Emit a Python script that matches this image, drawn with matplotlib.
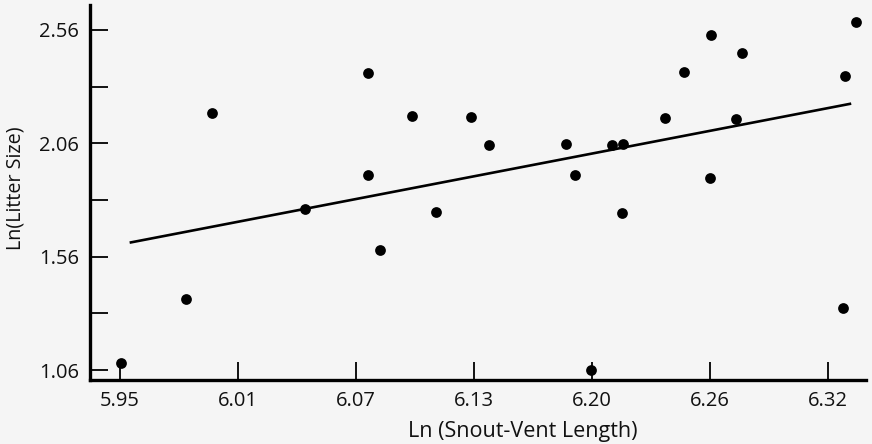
import numpy as np
import matplotlib.pyplot as plt

# ln snout-vent length vs ln litter size
svl = [5.9505, 5.9845, 5.998, 6.0467, 6.0798, 6.0798, 6.0859, 6.1028, 6.115,
       6.1334, 6.1428, 6.1829, 6.1876, 6.196, 6.2073, 6.2129, 6.2122, 6.2348,
       6.2449, 6.2587, 6.2583, 6.2749, 6.2717, 6.3287, 6.3345, 6.3278]
litter = [1.091, 1.373, 2.195, 1.772, 2.372, 1.922, 1.591, 2.179, 1.756,
          2.176, 2.053, 2.057, 1.922, 1.06, 2.053, 2.057, 1.754, 2.173,
          2.373, 2.537, 1.907, 2.457, 2.166, 2.357, 2.597, 1.332]

# regression line end points
fit_x = [5.9557, 6.3315]
fit_y = [1.623, 2.234]

x_labels = ["5.95", "6.01", "6.07", "6.13", "6.20", "6.26", "6.32"]
y_major = [1.06, 1.56, 2.06, 2.56]
y_minor = [1.31, 1.81, 2.31]

bg = "#f5f5f5"
plt.rcParams.update({
    "font.family": ["Open Sans", "DejaVu Sans"],
    "font.size": 14,
})

fig = plt.figure(figsize=(8.72, 4.44), dpi=100, facecolor=bg)
ax = fig.add_axes([0.1032, 0.1441, 0.8899, 0.8446], facecolor=bg)

ax.scatter(svl, litter, s=60, color="black", zorder=3, linewidths=0)
ax.plot(fit_x, fit_y, color="black", linewidth=1.9)

ax.set_xlim(5.9343, 6.3399)
ax.set_ylim(1.016, 2.670)

ax.set_xticks(np.linspace(5.95, 6.32, len(x_labels)))
ax.set_xticklabels(x_labels)
ax.set_yticks(y_major)
ax.set_yticklabels([f"{v:.2f}" for v in y_major])
ax.set_yticks(y_minor, minor=True)

ax.tick_params(axis="both", which="both", direction="in", length=13,
               width=1.3, color="black", labelsize=14.5, labelcolor="#111111")
ax.tick_params(axis="x", pad=8)
ax.tick_params(axis="y", pad=8)

for side in ["top", "right"]:
    ax.spines[side].set_visible(False)
for side in ["left", "bottom"]:
    ax.spines[side].set_linewidth(2.4)

# axis titles, placed where they sit in the original
fig.text(0.599, 0.028, "Ln (Snout-Vent Length)", fontsize=15.5,
         ha="center", va="center", color="#111111")
fig.text(0.018, 0.577, "Ln(Litter Size)", fontsize=14.2, rotation=90,
         ha="center", va="center", color="#111111")

plt.savefig("out.png", dpi=100, facecolor=bg)
